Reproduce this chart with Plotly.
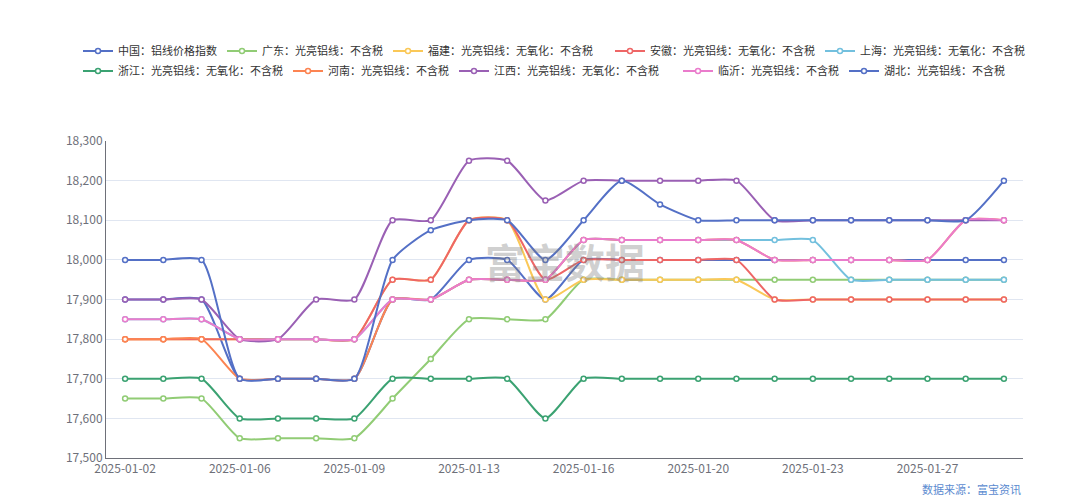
import plotly.graph_objects as go

# dates (trading days)
datas = ["2025-01-02", "2025-01-03", "2025-01-04", "2025-01-06", "2025-01-07", "2025-01-08",
         "2025-01-09", "2025-01-10", "2025-01-11", "2025-01-13", "2025-01-14", "2025-01-15",
         "2025-01-16", "2025-01-17", "2025-01-18", "2025-01-20", "2025-01-21", "2025-01-22",
         "2025-01-23", "2025-01-24", "2025-01-25", "2025-01-27", "2025-01-28", "2025-01-29"]

zhongguo = [17900, 17900, 17900, 17700, 17700, 17700, 17700, 17900, 17900, 18000, 18000, 17900,
            18000, 18000, 18000, 18000, 18000, 18000, 18000, 18000, 18000, 18000, 18000, 18000]
guangdong = [17650, 17650, 17650, 17550, 17550, 17550, 17550, 17650, 17750, 17850, 17850, 17850,
             17950, 17950, 17950, 17950, 17950, 17950, 17950, 17950, 17950, 17950, 17950, 17950]
fujian = [17800, 17800, 17800, 17800, 17800, 17800, 17800, 17950, 17950, 18100, 18100, 17900,
          17950, 17950, 17950, 17950, 17950, 17900, 17900, 17900, 17900, 17900, 17900, 17900]
anhui = [17800, 17800, 17800, 17800, 17800, 17800, 17800, 17950, 17950, 18100, 18100, 17950,
         18000, 18000, 18000, 18000, 18000, 17900, 17900, 17900, 17900, 17900, 17900, 17900]
shanghai = [17850, 17850, 17850, 17800, 17800, 17800, 17800, 17900, 17900, 17950, 17950, 17950,
            18050, 18050, 18050, 18050, 18050, 18050, 18050, 17950, 17950, 17950, 17950, 17950]
zhejiang = [17700, 17700, 17700, 17600, 17600, 17600, 17600, 17700, 17700, 17700, 17700, 17600,
            17700, 17700, 17700, 17700, 17700, 17700, 17700, 17700, 17700, 17700, 17700, 17700]
henan = [17800, 17800, 17800, 17700, 17700, 17700, 17700, 17900, 17900, 17950, 17950, 17950,
         18050, 18050, 18050, 18050, 18050, 18000, 18000, 18000, 18000, 18000, 18100, 18100]
jiangxi = [17900, 17900, 17900, 17800, 17800, 17900, 17900, 18100, 18100, 18250, 18250, 18150,
           18200, 18200, 18200, 18200, 18200, 18100, 18100, 18100, 18100, 18100, 18100, 18100]
linyi = [17850, 17850, 17850, 17800, 17800, 17800, 17800, 17900, 17900, 17950, 17950, 17950,
         18050, 18050, 18050, 18050, 18050, 18000, 18000, 18000, 18000, 18000, 18100, 18100]
hubei = [18000, 18000, 18000, 17700, 17700, 17700, 17700, 18000, 18075, 18100, 18100, 18000,
         18100, 18200, 18140, 18100, 18100, 18100, 18100, 18100, 18100, 18100, 18100, 18200]

nomes = ["中国：铝线价格指数", "广东：光亮铝线：不含税", "福建：光亮铝线：无氧化：不含税",
         "安徽：光亮铝线：无氧化：不含税", "上海：光亮铝线：无氧化：不含税",
         "浙江：光亮铝线：无氧化：不含税", "河南：光亮铝线：不含税",
         "江西：光亮铝线：无氧化：不含税", "临沂：光亮铝线：不含税", "湖北：光亮铝线：不含税"]
series = [zhongguo, guangdong, fujian, anhui, shanghai, zhejiang, henan, jiangxi, linyi, hubei]
cores = ["#5470c6", "#91cc75", "#fac858", "#ee6666", "#73c0de",
         "#3ba272", "#fc8452", "#9a60b4", "#ea7ccc", "#5470c6"]
grupos = ["legend", "legend", "legend", "legend3", "legend3",
          "legend2", "legend2", "legend2", "legend4", "legend4"]

fig = go.Figure()
for nome, valores, cor, g in zip(nomes, series, cores, grupos):
    fig.add_trace(go.Scatter(
        x=datas, y=valores, name=nome, mode="lines+markers", legend=g,
        line=dict(color=cor, width=2, shape="spline", smoothing=0.6),
        marker=dict(symbol="circle", size=5, color="white", line=dict(color=cor, width=1.5)),
    ))

# marca d'agua
fig.add_annotation(x=0.5, y=0.62, xref="paper", yref="paper", text="<b>富宝数据</b>",
                   showarrow=False, font=dict(size=40, color="rgba(120,120,120,0.35)",
                                              family="Noto Sans CJK SC"))
fig.add_annotation(x=1.0, y=-0.13, xref="paper", yref="paper", text="数据来源：富宝资讯",
                   showarrow=False, xanchor="right",
                   font=dict(size=11, color="#5b8bd0", family="Noto Sans CJK SC"))

leg = dict(orientation="h", xanchor="left", xref="container", yref="container",
           yanchor="middle", font=dict(size=11), itemwidth=30, bgcolor="rgba(0,0,0,0)")
fig.update_layout(
    width=1080, height=502,
    margin=dict(l=98, r=65, t=133, b=52),
    plot_bgcolor="white", paper_bgcolor="white",
    font=dict(family="Noto Sans CJK SC", size=12, color="#333"),
    legend=dict(leg, x=70 / 1080, y=1 - 43 / 502),
    legend3=dict(leg, x=602 / 1080, y=1 - 43 / 502),
    legend2=dict(leg, x=70 / 1080, y=1 - 63 / 502),
    legend4=dict(leg, x=670 / 1080, y=1 - 63 / 502),
    xaxis=dict(type="category", range=[-0.5, len(datas) - 0.5],
               tickvals=datas[::3], ticktext=datas[::3],
               showline=True, linecolor="#6e7079", showgrid=False,
               ticks="", tickfont=dict(color="#6e7079")),
    yaxis=dict(range=[17500, 18300], dtick=100, tickformat=",",
               showgrid=True, gridcolor="#e0e6f1", showline=True, linecolor="#6e7079",
               tickfont=dict(color="#6e7079"), zeroline=False),
)
fig.write_html("out.html")
